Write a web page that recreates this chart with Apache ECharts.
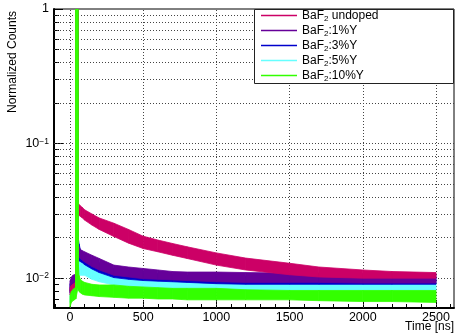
<!DOCTYPE html>
<html>
<head>
<meta charset="utf-8">
<script src="https://cdn.jsdelivr.net/npm/echarts@6/dist/echarts.min.js"></script>
<style>html,body{margin:0;padding:0;background:#fff}#c{width:462px;height:336px}</style>
</head>
<body>
<div id="c"></div>
<script>
// Time bins [ns]
var times = [0, 10, 20, 30, 38, 40, 55, 58, 62, 70, 85, 100, 150, 200, 300, 400, 500, 600, 700, 800, 1000, 1200, 1500, 1700, 2000, 2200, 2500];

// Band envelopes (upper / lower edges of the noisy traces), normalized counts
var undopedHi = [0.0085, 0.0088, 0.0090, 0.0092, 0.0093, 1, 1, 0.0360, 0.0352, 0.0345, 0.0335, 0.0322, 0.0300, 0.0280, 0.0256, 0.0230, 0.0205, 0.0192, 0.0181, 0.0171, 0.0154, 0.0141, 0.0129, 0.0121, 0.0115, 0.0112, 0.0110];
var undopedLo = [0.0075, 0.0078, 0.0080, 0.0081, 0.0082, 0.0082, 0.0290, 0.0298, 0.0295, 0.0288, 0.0280, 0.0270, 0.0248, 0.0230, 0.0204, 0.0182, 0.0166, 0.0157, 0.0148, 0.0140, 0.0125, 0.0115, 0.0106, 0.0102, 0.0100, 0.0100, 0.0100];

var y1Hi = [0.0095, 0.0102, 0.0105, 0.0106, 0.0107, 1, 1, 0.0180, 0.0172, 0.0163, 0.0160, 0.0157, 0.0148, 0.0140, 0.0125, 0.0121, 0.0118, 0.0115, 0.0112, 0.0111, 0.0111, 0.0110, 0.0109, 0.0109, 0.0108, 0.0108, 0.0108];
var y1Lo = [0.0080, 0.0088, 0.0092, 0.0093, 0.0094, 0.0094, 0.0150, 0.0148, 0.0145, 0.0140, 0.0136, 0.0132, 0.0122, 0.0115, 0.0105, 0.0102, 0.0099, 0.0098, 0.0097, 0.0096, 0.0094, 0.0093, 0.0093, 0.0093, 0.0092, 0.0092, 0.0092];

var y3Hi = [0.0090, 0.0097, 0.0100, 0.0102, 0.0103, 1, 1, 0.0195, 0.0180, 0.0165, 0.0155, 0.0150, 0.0138, 0.0130, 0.0118, 0.0114, 0.0110, 0.0108, 0.0106, 0.0105, 0.0104, 0.0103, 0.0103, 0.0102, 0.0102, 0.0102, 0.0102];
var y3Lo = [0.0078, 0.0085, 0.0088, 0.0090, 0.0091, 0.0091, 0.0140, 0.0138, 0.0135, 0.0133, 0.0130, 0.0126, 0.0117, 0.0110, 0.0101, 0.0098, 0.0096, 0.0095, 0.0094, 0.0093, 0.0091, 0.0090, 0.0090, 0.0090, 0.0090, 0.0090, 0.0090];

var y5Hi = [0.0082, 0.0086, 0.0088, 0.0089, 0.0090, 1, 1, 0.0165, 0.0157, 0.0150, 0.0142, 0.0136, 0.0125, 0.0118, 0.0109, 0.0107, 0.0105, 0.0102, 0.0099, 0.0097, 0.0094, 0.0093, 0.0093, 0.0092, 0.0091, 0.0091, 0.0092];
var y5Lo = [0.0066, 0.0072, 0.0076, 0.0078, 0.0079, 0.0079, 0.0115, 0.0110, 0.0107, 0.0105, 0.0105, 0.0105, 0.0098, 0.0094, 0.0089, 0.0087, 0.0086, 0.0084, 0.0082, 0.0081, 0.0080, 0.0080, 0.0081, 0.0081, 0.0081, 0.0081, 0.0081];

var y10Hi = [0.0074, 0.0080, 0.0082, 0.0084, 0.0085, 1, 1, 0.0125, 0.0105, 0.0098, 0.0095, 0.0093, 0.0090, 0.0089, 0.0089, 0.0087, 0.0086, 0.0085, 0.0084, 0.0084, 0.0084, 0.0082, 0.0081, 0.0081, 0.0081, 0.0081, 0.0081];
var y10Lo = [0.0061, 0.0066, 0.0068, 0.0069, 0.0070, 0.0070, 0.0085, 0.0082, 0.0080, 0.0078, 0.0076, 0.0075, 0.0074, 0.0073, 0.0072, 0.0071, 0.0071, 0.0070, 0.0070, 0.0069, 0.0069, 0.0069, 0.0069, 0.0068, 0.0067, 0.0067, 0.0066];

var seriesNames = ['BaF2 undoped', 'BaF2:1%Y', 'BaF2:3%Y', 'BaF2:5%Y', 'BaF2:10%Y'];
var legendLabels = ['BaF{sub|2} undoped', 'BaF{sub|2}:1%Y', 'BaF{sub|2}:3%Y', 'BaF{sub|2}:5%Y', 'BaF{sub|2}:10%Y'];

// Axis ticks / grid lines
var xMajorTicks = [0, 500, 1000, 1500, 2000, 2500];
var xMinorTicks = [-100, 0, 100, 200, 300, 400, 500, 600, 700, 800, 900, 1000, 1100, 1200, 1300, 1400, 1500, 1600, 1700, 1800, 1900, 2000, 2100, 2200, 2300, 2400, 2500, 2600];
var yMajorTicks = [0.01, 0.1, 1];
var yMinorTicks = [0.007, 0.008, 0.009, 0.02, 0.03, 0.04, 0.05, 0.06, 0.07, 0.08, 0.09, 0.2, 0.3, 0.4, 0.5, 0.6, 0.7, 0.8, 0.9];
var yGridValues = [0.007, 0.008, 0.009, 0.01, 0.02, 0.03, 0.04, 0.05, 0.06, 0.07, 0.08, 0.09, 0.1, 0.2, 0.3, 0.4, 0.5, 0.6, 0.7, 0.8, 0.9];

var FONT = '"Liberation Sans", Arial, Helvetica, sans-serif';

function segments(lo, hi) {
  var d = [];
  for (var i = 0; i < times.length - 1; i++) {
    d.push([times[i], lo[i], hi[i], times[i + 1], lo[i + 1], hi[i + 1]]);
  }
  return d;
}

function band(name, color, lo, hi, z) {
  return {
    type: 'custom',
    name: name,
    xAxisIndex: 0,
    yAxisIndex: 0,
    z: z,
    clip: true,
    itemStyle: { color: color },
    encode: { x: [0, 3], y: [1, 2, 4, 5] },
    data: segments(lo, hi),
    renderItem: function (params, api) {
      var pts = [
        api.coord([api.value(0), api.value(2)]),
        api.coord([api.value(3), api.value(5)]),
        api.coord([api.value(3), api.value(4)]),
        api.coord([api.value(0), api.value(1)])
      ];
      return {
        type: 'polygon',
        shape: { points: pts },
        style: { fill: color, stroke: color, lineWidth: 0.8 }
      };
    }
  };
}

var gridMarks = [];
xMajorTicks.forEach(function (v) { gridMarks.push({ xAxis: v }); });
yGridValues.forEach(function (v) { gridMarks.push({ yAxis: v }); });

var gridSeries = {
  type: 'line', name: '_grid', xAxisIndex: 0, yAxisIndex: 0, z: 1,
  data: [], silent: true, showSymbol: false,
  markLine: {
    silent: true, symbol: ['none', 'none'], z: 1, animation: false,
    label: { show: false },
    lineStyle: { color: '#444', type: [1, 2], width: 1 },
    emphasis: { disabled: true },
    data: gridMarks
  }
};

var chart = echarts.init(document.getElementById('c'), null, { renderer: 'canvas' });

chart.setOption({
  animation: false,
  backgroundColor: '#fff',
  textStyle: { fontFamily: FONT },
  grid: { left: 54, top: 9, width: 400, height: 299, show: true, borderColor: '#000', borderWidth: 1, backgroundColor: 'transparent' },
  xAxis: [
    {
      type: 'value', min: -109, max: 2623, position: 'bottom',
      axisLine: { show: true, onZero: false, lineStyle: { color: '#000', width: 2 } },
      axisTick: { show: true, inside: true, length: 8, customValues: xMajorTicks, lineStyle: { color: '#000' } },
      axisLabel: { show: true, customValues: xMajorTicks, color: '#000', fontSize: 12.5, fontFamily: FONT, margin: 3,
        formatter: function (v) { return String(v); } },
      splitLine: { show: false }
    },
    {
      type: 'value', min: -109, max: 2623, position: 'bottom',
      axisLine: { show: false, onZero: false },
      axisTick: { show: true, inside: true, length: 4, customValues: xMinorTicks, lineStyle: { color: '#000' } },
      axisLabel: { show: false },
      splitLine: { show: false }
    }
  ],
  yAxis: [
    {
      type: 'log', logBase: 10, min: 0.006, max: 1, position: 'left',
      axisLine: { show: true, onZero: false, lineStyle: { color: '#000', width: 2 } },
      axisTick: { show: true, inside: true, length: 9, customValues: yMajorTicks, lineStyle: { color: '#000' } },
      axisLabel: {
        show: true, customValues: yMajorTicks, color: '#000', fontSize: 12.5, fontFamily: FONT, margin: 5,
        formatter: function (v) {
          var e = Math.round(Math.log10(v));
          if (e === 0) return '1';
          return '10{sup|\u2212' + (-e) + '}';
        },
        rich: { sup: { fontSize: 8.5, verticalAlign: 'top', lineHeight: 8, fontFamily: FONT, color: '#000' } }
      },
      splitLine: { show: false }
    },
    {
      type: 'log', logBase: 10, min: 0.006, max: 1, position: 'left',
      axisLine: { show: false, onZero: false },
      axisTick: { show: true, inside: true, length: 5, customValues: yMinorTicks, lineStyle: { color: '#000' } },
      axisLabel: { show: false },
      splitLine: { show: false }
    }
  ],
  legend: {
    left: 261, top: 8, orient: 'vertical', padding: 0, itemGap: 0,
    itemWidth: 36, itemHeight: 1.5, icon: 'rect', z: 20,
    data: seriesNames,
    textStyle: {
      fontSize: 12, fontFamily: FONT, color: '#000', lineHeight: 15,
      rich: { sub: { fontSize: 8, lineHeight: 7, verticalAlign: 'bottom', fontFamily: FONT, color: '#000' } }
    },
    formatter: function (n) { return legendLabels[seriesNames.indexOf(n)]; }
  },
  graphic: [
    { type: 'rect', z: 10, shape: { x: 254.5, y: 9.5, width: 199, height: 74 }, style: { fill: '#fff', stroke: '#222', lineWidth: 1 } },
    { type: 'text', z: 10, x: 13, y: 62, rotation: Math.PI / 2, style: { text: 'Normalized Counts', font: '12px ' + FONT, fill: '#000', align: 'center', verticalAlign: 'middle' } },
    { type: 'text', z: 10, x: 454, y: 327, style: { text: 'Time [ns]', font: '12px ' + FONT, fill: '#000', align: 'right', verticalAlign: 'middle' } }
  ],
  series: [
    gridSeries,
    band(seriesNames[3], '#66ffff', y5Lo, y5Hi, 2),
    band(seriesNames[2], '#0000cc', y3Lo, y3Hi, 3),
    band(seriesNames[1], '#660099', y1Lo, y1Hi, 4),
    band(seriesNames[0], '#cc0066', undopedLo, undopedHi, 5),
    band(seriesNames[4], '#33ff00', y10Lo, y10Hi, 6)
  ]
});
</script>
</body>
</html>
